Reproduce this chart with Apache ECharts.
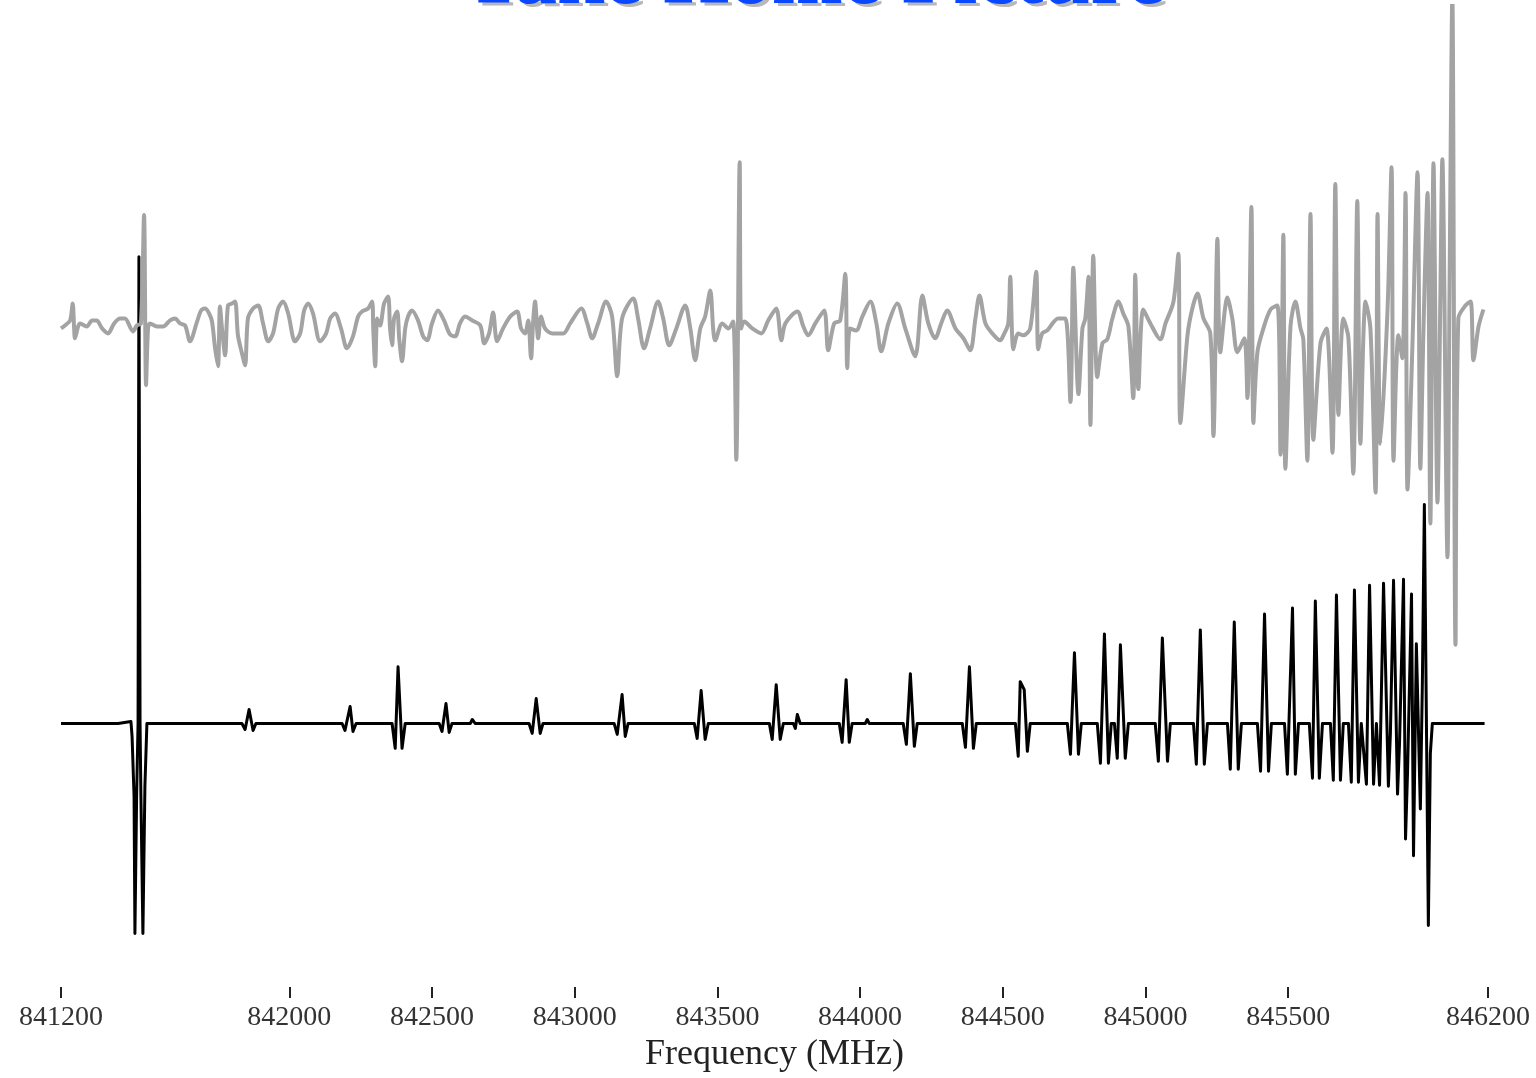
<!DOCTYPE html>
<html>
<head>
<meta charset="utf-8">
<title>Take Home Picture</title>
<script src="https://cdn.jsdelivr.net/npm/echarts@6/dist/echarts.min.js"></script>
<style>
  html, body { margin: 0; padding: 0; background: #fff; }
  #main { width: 1536px; height: 1078px; }
</style>
</head>
<body>
<div id="main"></div>
<script>
// tick positions on the frequency axis (MHz)
var tickValues = [841200, 842000, 842500, 843000, 843500, 844000, 844500, 845000, 845500, 846200];

// black trace: predicted spectrum (frequency MHz / intensity, arbitrary units)
var predFreq = [
  841200, 841400, 841403, 841445, 841449, 841456, 841459, 841465, 841470, 841473, 841477, 841480, 841487, 841494, 841501,
  841834, 841845, 841859, 841873, 841883,
  842185, 842195, 842213, 842223, 842234,
  842360, 842371, 842381, 842395, 842406,
  842525, 842535, 842549, 842560, 842570,
  842634, 842641, 842651,
  842840, 842851, 842865, 842879, 842889,
  843138, 843149, 843166, 843177, 843187,
  843419, 843429, 843443, 843457, 843468,
  843682, 843692, 843706, 843720, 843731,
  843766, 843773, 843780, 843790,
  843927, 843937, 843951, 843962, 843972,
  844018, 844025, 844032,
  844151, 844162, 844176, 844190, 844200,
  844358, 844369, 844383, 844397, 844407,
  844544, 844554, 844561, 844575, 844586, 844596,
  844726, 844737, 844751, 844765, 844775,
  844831, 844842, 844856, 844870, 844880,
  844891, 844901, 844912, 844929, 844940,
  845034, 845045, 845059, 845077, 845087,
  845168, 845178, 845192, 845206, 845217,
  845287, 845297, 845311, 845325, 845336,
  845392, 845403, 845417, 845431, 845441,
  845487, 845497, 845515, 845525, 845536,
  845574, 845585, 845595, 845609, 845620,
  845648, 845658, 845669, 845683, 845693,
  845711, 845721, 845732, 845746, 845756,
  845763, 845774, 845785, 845799, 845809,
  845820, 845834, 845851, 845858,
  845869, 845883, 845890,
  845904, 845911, 845918,
  845932, 845939,
  845949, 845963, 845970,
  845977, 845991, 845998, 846005, 846188
];
var predInt = [
  0, 0, 0.02, 0.02, -0.13, -0.73, -2.11, -0.73, 0, 4.69, 0, -0.73, -2.11, -0.63, 0,
  0, -0.06, 0.14, -0.07, 0,
  0, -0.07, 0.17, -0.08, 0,
  0, -0.25, 0.57, -0.25, 0,
  0, -0.08, 0.20, -0.09, 0,
  0, 0.04, 0,
  0, -0.10, 0.25, -0.10, 0,
  0, -0.11, 0.29, -0.13, 0,
  0, -0.15, 0.33, -0.16, 0,
  0, -0.16, 0.39, -0.16, 0,
  0, -0.05, 0.09, 0,
  0, -0.19, 0.44, -0.19, 0,
  0, 0.04, 0,
  0, -0.21, 0.50, -0.23, 0,
  0, -0.24, 0.57, -0.25, 0,
  0, -0.33, 0.42, 0.34, -0.28, 0,
  0, -0.31, 0.71, -0.31, 0,
  0, -0.40, 0.90, -0.40, 0,
  0, -0.35, 0.79, -0.35, 0,
  0, -0.38, 0.86, -0.38, 0,
  0, -0.41, 0.94, -0.41, 0,
  0, -0.46, 1.02, -0.46, 0,
  0, -0.48, 1.10, -0.48, 0,
  0, -0.51, 1.16, -0.51, 0,
  0, -0.55, 1.23, -0.55, 0,
  0, -0.57, 1.29, -0.57, 0,
  0, -0.59, 1.34, -0.59, 0,
  0, -0.61, 1.39, -0.61, 0,
  -0.62, 1.41, -0.63, -0.10,
  1.44, -0.71, -0.20,
  1.45, -1.16, -0.50,
  1.30, -1.33,
  0.80, -0.86, 0.40,
  2.20, -2.03, -0.30, 0, 0
];

// grey trace: observed spectrum (frequency MHz / intensity, arbitrary units)
var obsFreq = [
  841200, 841214, 841232, 841241, 841246, 841249, 841260, 841267, 841290, 841309,
  841325, 841344, 841365, 841386, 841407, 841424, 841452, 841466, 841480, 841491,
  841498, 841505, 841512, 841536, 841558, 841582, 841600, 841617, 841635, 841652,
  841677, 841691, 841705, 841719, 841729, 841740, 841750, 841757, 841764, 841775,
  841785, 841799, 841810, 841820, 841834, 841845, 841855, 841873, 841891, 841908,
  841926, 841943, 841961, 841978, 841996, 842020, 842038, 842052, 842066, 842083,
  842108, 842129, 842143, 842160, 842181, 842202, 842223, 842241, 842255, 842276,
  842290, 842294, 842301, 842308, 842318, 842332, 842346, 842353, 842360, 842367,
  842378, 842385, 842395, 842406, 842416, 842430, 842451, 842469, 842483, 842500,
  842521, 842542, 842563, 842581, 842598, 842616, 842641, 842669, 842683, 842700,
  842714, 842728, 842749, 842774, 842798, 842812, 842826, 842837, 842847, 842854,
  842861, 842872, 842882, 842896,
  842921, 842960, 842984, 843023, 843044, 843061, 843082, 843110, 843131, 843149,
  843166, 843205, 843222, 843243, 843264, 843292, 843310, 843331, 843356, 843387,
  843405, 843422, 843440, 843457, 843475, 843485, 843492, 843517, 843538, 843555,
  843566, 843578, 843583, 843594, 843622, 843654, 843678, 843706, 843724, 843738,
  843780, 843801, 843818, 843843, 843874, 843888, 843909, 843930, 843948, 843955,
  843965, 843986, 844008, 844036, 844057, 844074, 844099, 844130, 844158, 844193,
  844218, 844239, 844263, 844284, 844305, 844334, 844362, 844386, 844404, 844418,
  844439, 844463, 844491, 844502, 844519, 844526, 844537, 844554, 844572, 844596,
  844617, 844624, 844638, 844656, 844694, 844719, 844737, 844747, 844765, 844779,
  844789, 844800, 844807, 844817, 844831, 844849, 844866, 844884, 844905, 844922,
  844940, 844957, 844964, 844975, 844992, 845017, 845052, 845070, 845098, 845115,
  845122, 845147, 845164, 845182, 845203, 845227, 845238, 845252, 845262, 845287,
  845304, 845322, 845346, 845357, 845371, 845378, 845392, 845413, 845438, 845462,
  845473, 845483, 845490, 845508, 845525, 845543, 845553, 845567, 845578, 845588,
  845613, 845634, 845655, 845665, 845676, 845693, 845711, 845728, 845742, 845753,
  845771, 845788, 845806, 845813, 845823, 845848, 845862, 845869, 845886, 845900,
  845911, 845918, 845935, 845953, 845963, 845974, 845988, 845998, 846009, 846023,
  846033, 846040, 846058, 846065, 846075, 846086, 846096, 846121, 846139, 846149,
  846167, 846184
];
var obsInt = [
  -0.05, -0.02, 0.03, 0.20, -0.05, -0.15, -0.03, 0.00, -0.03, 0.03,
  0.03, -0.05, -0.10, 0.00, 0.05, 0.05, -0.08, -0.02, 0.00, 1.09,
  -0.62, -0.05, 0.00, -0.03, -0.03, 0.03, 0.05, 0.00, -0.02, -0.18,
  0.02, 0.13, 0.15, 0.10, 0.02, -0.25, -0.43, 0.17, -0.05, -0.32,
  0.18, 0.20, 0.22, -0.12, -0.30, -0.42, 0.05, 0.15, 0.18, 0.00,
  -0.18, -0.10, 0.15, 0.22, 0.10, -0.18, -0.10, 0.13, 0.20, 0.10,
  -0.18, -0.10, 0.05, 0.10, -0.05, -0.25, -0.13, 0.07, 0.12, 0.15,
  0.22, -0.05, -0.43, 0.05, -0.02, 0.20, 0.27, -0.05, -0.22, 0.05,
  0.12, -0.15, -0.38, -0.05, 0.07, 0.13, 0.03, -0.13, -0.17, 0.00,
  0.13, 0.03, -0.11, -0.13, 0.00, 0.07, 0.03, -0.02, -0.20, -0.10,
  0.11, -0.18, -0.05, 0.07, 0.12, -0.05, -0.10, 0.03, -0.35, 0.00,
  0.22, -0.15, 0.07, -0.05,
  -0.10, -0.10, 0.00, 0.15, 0.00, -0.15, 0.00, 0.22, 0.07, -0.53,
  0.05, 0.25, 0.05, -0.25, -0.05, 0.22, 0.05, -0.22, -0.05, 0.18,
  -0.05, -0.37, -0.05, 0.07, 0.33, -0.05, -0.17, 0.00, -0.05, 0.02,
  -1.37, 1.62, -0.05, 0.02, -0.05, -0.10, 0.03, 0.15, -0.17, 0.00,
  0.12, -0.03, -0.12, 0.00, 0.13, -0.27, 0.00, 0.03, 0.50, -0.45,
  -0.05, -0.07, 0.07, 0.22, 0.00, -0.28, 0.00, 0.20, -0.05, -0.33,
  0.28, 0.00, -0.15, 0.00, 0.13, -0.05, -0.15, -0.27, 0.05, 0.28,
  0.00, -0.10, -0.17, -0.12, 0.00, 0.47, -0.26, -0.10, -0.12, -0.05,
  0.52, -0.26, -0.10, -0.07, 0.05, 0.05, -0.79, 0.56, -0.71, -0.05,
  0.05, 0.47, -1.02, 0.68, -0.54, -0.20, -0.16, 0.05, 0.22, 0.10,
  -0.03, -0.75, 0.49, -0.66, 0.14, 0.00, -0.16, 0.00, 0.22, 0.70,
  -1.00, -0.12, 0.15, 0.30, 0.05, -0.10, -1.13, 0.85, -0.29, 0.26,
  0.05, -0.29, -0.15, -0.75, 1.17, -1.00, -0.29, -0.05, 0.14, 0.18,
  -1.32, 0.89, -1.46, -0.03, 0.22, -0.05, -0.16, -1.38, 1.10, -1.17,
  -0.20, -0.05, -1.30, 1.40, -0.92, 0.05, -0.15, -1.51, 1.23, -1.21,
  0.22, -0.05, -1.70, 1.10, -1.21, 0.14, 1.57, -1.38, -0.12, -0.35,
  1.31, -1.67, -0.24, 1.52, -1.46, -0.05, 1.31, -2.01, 1.61, -1.80,
  0.25, 1.65, -2.35, 0.25, 3.30, -3.23, 0.05, 0.18, 0.22, -0.37,
  -0.03, 0.14
];

function pairs(xs, ys) {
  return xs.map(function (x, i) { return [x, ys[i]]; });
}

var titleText = 'Take Home Picture';
var titleFont = 'bold 85px "Liberation Serif", "DejaVu Serif", serif';

var chart = echarts.init(document.getElementById('main'));

var option = {
  backgroundColor: '#ffffff',
  animation: false,
  graphic: [
    {
      // drop shadow of the title
      type: 'text',
      x: 819,
      y: -16,
      z: 9,
      style: { text: titleText, font: titleFont, fill: '#b8b8b8', align: 'center', verticalAlign: 'middle' }
    },
    {
      type: 'text',
      x: 815,
      y: -19,
      z: 10,
      style: { text: titleText, font: titleFont, fill: '#0a48ff', align: 'center', verticalAlign: 'middle' }
    }
  ],
  grid: { left: 61, right: 48, top: 6, height: 997 },
  xAxis: {
    type: 'value',
    min: 841200,
    max: 846200,
    name: 'Frequency (MHz)',
    nameLocation: 'middle',
    nameGap: 38,
    nameTextStyle: { fontFamily: 'Liberation Serif', fontSize: 36, color: '#222' },
    axisLine: { show: false, onZero: false },
    splitLine: { show: false },
    axisTick: {
      show: true,
      inside: true,
      length: 11,
      customValues: tickValues,
      lineStyle: { color: '#222', width: 2 }
    },
    axisLabel: {
      customValues: tickValues,
      formatter: function (v) { return String(v); },
      fontFamily: 'Liberation Serif',
      fontSize: 28,
      color: '#333',
      margin: 6
    }
  },
  yAxis: [
    { type: 'value', min: -2.76, max: 7.21, show: false },
    { type: 'value', min: -6.78, max: 3.19, show: false }
  ],
  series: [
    {
      name: 'predicted',
      type: 'line',
      yAxisIndex: 0,
      data: pairs(predFreq, predInt),
      symbol: 'none',
      lineStyle: { color: '#000000', width: 3, join: 'round' },
      z: 2
    },
    {
      name: 'observed',
      type: 'line',
      yAxisIndex: 1,
      data: pairs(obsFreq, obsInt),
      symbol: 'none',
      smooth: 0.3,
      lineStyle: { color: '#a3a3a3', width: 4, join: 'round' },
      z: 3
    }
  ]
};

chart.setOption(option);
</script>
</body>
</html>
